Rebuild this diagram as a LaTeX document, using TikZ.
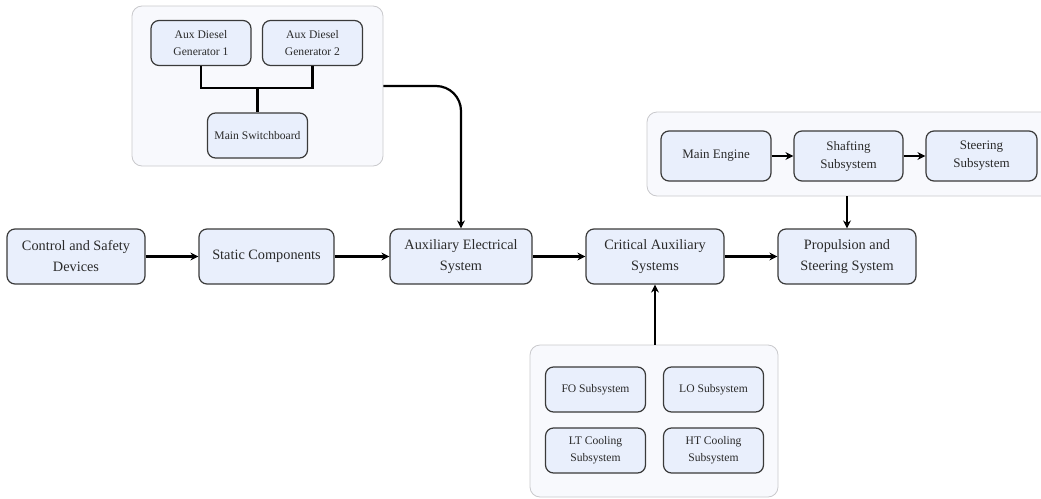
\documentclass[tikz,border=0pt]{standalone}
\usepackage{fontspec}
\setmainfont{Liberation Serif}
\usetikzlibrary{arrows.meta}

\definecolor{boxfill}{HTML}{E9EFFC}
\definecolor{boxline}{HTML}{3A3A3A}
\definecolor{groupfill}{HTML}{F8F9FD}
\definecolor{groupline}{HTML}{C9C9CC}
\definecolor{txt}{HTML}{2A2A2A}

\tikzset{
  block/.style={draw=boxline, line width=1.2pt, fill=boxfill, rounded corners=8pt,
    align=center, text=txt, inner sep=2pt},
  mainblock/.style={block, minimum height=55pt,
    font=\fontsize{14.3}{21}\selectfont},
  subblock/.style={block, minimum width=100pt, minimum height=45pt,
    font=\fontsize{11.6}{17}\selectfont},
  engblock/.style={block, minimum height=50pt,
    font=\fontsize{13}{18}\selectfont},
  group/.style={draw=groupline, line width=0.8pt, fill=groupfill, rounded corners=10pt,
    inner sep=0pt},
  arr/.style={draw=black, line width=2.2pt, -{Stealth[length=8pt,width=8pt]}},
  link/.style={draw=black, line width=2.2pt}
}

\begin{document}
\begin{tikzpicture}[x=1pt, y=-1pt]
  \useasboundingbox (0,0) rectangle (1041,498);

  % Group frames
  \node[group, minimum width=251pt, minimum height=160pt] (gen) at (257.5,86) {};
  \node[group, minimum width=404pt, minimum height=84pt] (drive) at (849,154) {};
  \node[group, minimum width=248pt, minimum height=152pt] (aux) at (654,421) {};

  % Generator set
  \node[subblock] (g1) at (201,43) {Aux Diesel\\Generator 1};
  \node[subblock] (g2) at (312.5,43) {Aux Diesel\\Generator 2};
  \node[subblock] (msb) at (257.5,135.5) {Main Switchboard};

  % Drive train
  \node[engblock, minimum width=110pt] (me) at (716,156) {Main Engine};
  \node[engblock, minimum width=109pt] (shaft) at (848.5,156) {Shafting\\Subsystem};
  \node[engblock, minimum width=111pt] (steer) at (981.5,156) {Steering\\Subsystem};

  % Auxiliary subsystems
  \node[subblock] (fo) at (595.5,389.5) {FO Subsystem};
  \node[subblock] (lo) at (713.5,389.5) {LO Subsystem};
  \node[subblock] (lt) at (595.5,450.5) {LT Cooling\\Subsystem};
  \node[subblock] (ht) at (713.5,450.5) {HT Cooling\\Subsystem};

  % Main chain
  \node[mainblock, minimum width=138pt] (ctrl) at (76,256.5) {Control and Safety\\Devices};
  \node[mainblock, minimum width=135pt] (static) at (266.5,256.5) {Static Components};
  \node[mainblock, minimum width=142pt] (auxel) at (461,256.5) {Auxiliary Electrical\\System};
  \node[mainblock, minimum width=138pt] (crit) at (655,256.5) {Critical Auxiliary\\Systems};
  \node[mainblock, minimum width=138pt] (prop) at (847,256.5) {Propulsion and\\Steering System};

  % Generator bus
  \coordinate (bus) at (257.5,88);
  \draw[link] (g1.south) |- (bus) -| (g2.south);
  \draw[link] (bus) -- (msb.north);

  % Drive train links
  \draw[arr] (me) -- (shaft);
  \draw[arr] (shaft) -- (steer);

  % Main chain links
  \draw[arr] (ctrl) -- (static);
  \draw[arr] (static) -- (auxel);
  \draw[arr] (auxel) -- (crit);
  \draw[arr] (crit) -- (prop);

  % Group feeds
  \draw[arr, rounded corners=25pt] (gen.east) -| (auxel.north);
  \draw[arr] (prop.north |- drive.south) -- (prop.north);
  \draw[arr] (crit.south |- aux.north) -- (crit.south);
\end{tikzpicture}
\end{document}
